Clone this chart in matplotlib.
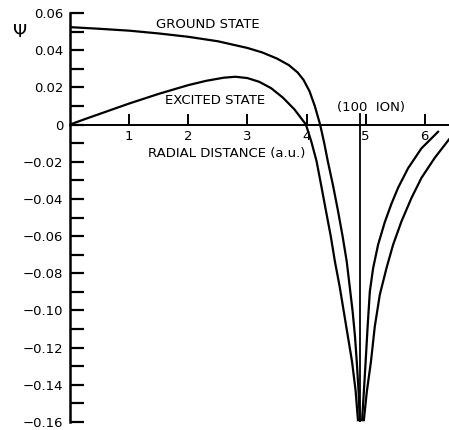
import matplotlib.pyplot as plt
import numpy as np

# Ground state wavefunction, left of the ion and right of it
ground_left_x = [0.00, 0.50, 1.00, 1.50, 2.00, 2.50, 3.00, 3.25, 3.50, 3.70, 3.85, 3.95, 4.05,
                 4.14, 4.23, 4.30, 4.36, 4.45, 4.53, 4.61, 4.68, 4.73, 4.78, 4.82, 4.85, 4.88, 4.90]
ground_left_y = [0.0524, 0.0515, 0.0505, 0.0490, 0.0472, 0.0448, 0.0412, 0.0388, 0.0355, 0.0320,
                 0.0280, 0.0240, 0.0180, 0.0100, 0.0000, -0.0100, -0.0197, -0.0330, -0.0460,
                 -0.0600, -0.0736, -0.0870, -0.1005, -0.1140, -0.1275, -0.1430, -0.1590]
ground_right_x = [4.97, 5.02, 5.09, 5.155, 5.24, 5.353, 5.465, 5.606, 5.775, 5.944, 6.169, 6.41]
ground_right_y = [-0.1590, -0.1437, -0.1275, -0.1086, -0.0915, -0.0772, -0.0646, -0.0521,
                  -0.0395, -0.0287, -0.0179, -0.0080]

# Excited state wavefunction
excited_left_x = [0.00, 0.25, 0.50, 1.00, 1.50, 2.00, 2.30, 2.60, 2.80, 3.00, 3.20, 3.40, 3.60,
                  3.80, 3.99, 4.08, 4.17, 4.25, 4.33, 4.41, 4.48, 4.56, 4.63, 4.70, 4.77, 4.83, 4.87]
excited_left_y = [0.0000, 0.0029, 0.0057, 0.0113, 0.0165, 0.0212, 0.0235, 0.0252, 0.0257, 0.0250,
                  0.0230, 0.0196, 0.0145, 0.0080, 0.0000, -0.0090, -0.0197, -0.0330, -0.0466,
                  -0.0600, -0.0736, -0.0870, -0.1005, -0.1140, -0.1275, -0.1430, -0.1590]
excited_right_x = [4.94, 4.97, 5.00, 5.035, 5.071, 5.127, 5.211, 5.324, 5.438, 5.549, 5.718,
                   5.944, 6.225]
excited_right_y = [-0.1590, -0.1437, -0.1275, -0.1080, -0.0898, -0.0772, -0.0646, -0.0525,
                   -0.0425, -0.0340, -0.0235, -0.0128, -0.0039]

ion_x = 4.90
ion_y = [0.0055, -0.1600]

x_ticks = [1, 2, 3, 4, 5, 6]
y_ticks = [0.06, 0.04, 0.02, 0.0, -0.02, -0.04, -0.06, -0.08, -0.10, -0.12, -0.14, -0.16]
y_tick_labels = ["0.06", "0.04", "0.02", "0", "\u22120.02", "\u22120.04", "\u22120.06", "\u22120.08",
                 "\u22120.10", "\u22120.12", "\u22120.14", "\u22120.16"]

fig = plt.figure(figsize=(4.49, 4.30), dpi=100)
ax = fig.add_axes([70 / 449, 8 / 430, 379 / 449, 409 / 430])

lw = 1.6
for xs, ys in [(ground_left_x, ground_left_y), (ground_right_x, ground_right_y),
               (excited_left_x, excited_left_y), (excited_right_x, excited_right_y)]:
    ax.plot(xs, ys, color="black", lw=lw, solid_joinstyle="round")
ax.plot([ion_x, ion_x], ion_y, color="black", lw=1.3)

ax.set_xlim(0, 6.41)
ax.set_ylim(-0.16, 0.06)

for s in ["top", "right"]:
    ax.spines[s].set_visible(False)
ax.spines["bottom"].set_position(("data", 0))
ax.spines["bottom"].set_linewidth(1.4)
ax.spines["left"].set_linewidth(1.8)

ax.set_xticks(x_ticks)
ax.set_xticklabels([str(t) for t in x_ticks])
ax.set_yticks(y_ticks)
ax.set_yticklabels(y_tick_labels)
ax.set_yticks(np.arange(-0.15, 0.06, 0.02), minor=True)
ax.tick_params(axis="x", direction="in", length=8, width=1.4, pad=4, labelsize=9.5)
ax.tick_params(axis="y", which="both", direction="in", length=10, width=1.6, pad=5, labelsize=9.5)

ax.text(2.33, 0.0536, "GROUND STATE", ha="center", va="center", fontsize=9.5)
ax.text(2.46, 0.0127, "EXCITED STATE", ha="center", va="center", fontsize=9.5)
ax.text(2.65, -0.0154, "RADIAL DISTANCE (a.u.)", ha="center", va="center", fontsize=9.5)
ax.text(5.09, 0.0094, "(100  ION)", ha="center", va="center", fontsize=9.5)
fig.text(20 / 449, 1 - 32 / 430, "\u03a8", ha="center", va="center", fontsize=13)

fig.savefig("out.png", dpi=100)
